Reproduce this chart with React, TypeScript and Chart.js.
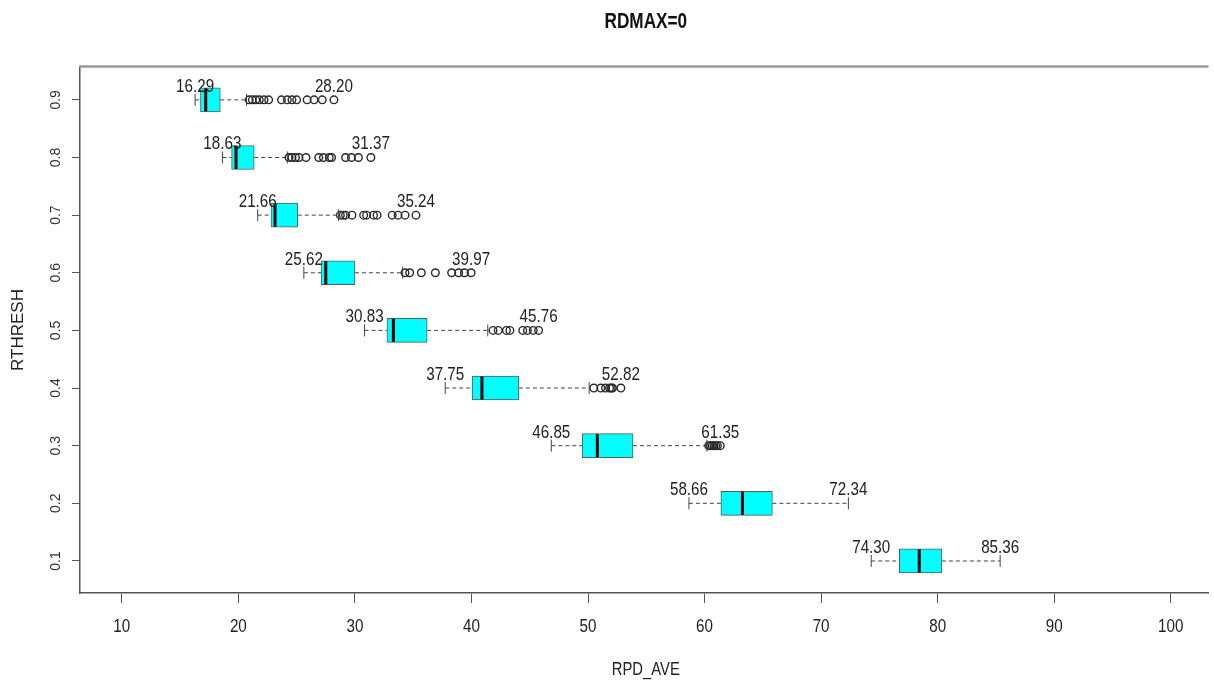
import React, { useEffect, useRef } from 'react';
import { Chart, registerables } from 'chart.js';

Chart.register(...registerables);

// ---- data (RTHRESH levels, RPD_AVE box statistics) ----
const rthresh = [0.1, 0.2, 0.3, 0.4, 0.5, 0.6, 0.7, 0.8, 0.9];
const whiskerLow = [74.3, 58.66, 46.85, 37.75, 30.83, 25.62, 21.66, 18.63, 16.29];
const q1 = [76.71, 61.4, 49.5, 40.06, 32.75, 27.1, 22.8, 19.42, 16.75];
const medianVals = [78.42, 63.25, 50.8, 40.9, 33.3, 27.5, 23.15, 19.8, 17.2];
const q3 = [80.36, 65.82, 53.86, 44.07, 36.2, 30.0, 25.1, 21.36, 18.45];
const whiskerHigh = [85.36, 72.34, 60.2, 50.1, 41.4, 34.1, 28.6, 24.2, 20.7];
const outliers: number[][] = [
  [],
  [],
  [60.35, 60.5, 60.65, 60.8, 60.95, 61.1, 61.35],
  [50.5, 51.1, 51.5, 51.85, 52.0, 52.1, 52.82],
  [41.85, 42.3, 43.0, 43.3, 44.4, 44.8, 45.3, 45.76],
  [34.3, 34.7, 35.7, 36.9, 38.3, 38.9, 39.4, 39.97],
  [28.75, 29.0, 29.2, 29.75, 30.75, 31.0, 31.6, 31.9, 33.2, 33.7, 34.3, 35.24],
  [24.35, 24.6, 24.9, 25.2, 25.8, 26.9, 27.3, 27.8, 28.0, 29.2, 29.7, 30.3, 31.37],
  [20.93, 21.2, 21.5, 21.8, 22.2, 22.6, 23.7, 24.2, 24.6, 25.0, 25.9, 26.5, 27.2, 28.2],
];
const xTicks = [10, 20, 30, 40, 50, 60, 70, 80, 90, 100];
const xTickLabels = ['10', '20', '30', '40', '50', '60', '70', '80', '90', '100'];
const yTicks = [0.1, 0.2, 0.3, 0.4, 0.5, 0.6, 0.7, 0.8, 0.9];
const yTickLabels = ['0.1', '0.2', '0.3', '0.4', '0.5', '0.6', '0.7', '0.8', '0.9'];
const titleText = 'RDMAX=0';
const xTitle = 'RPD_AVE';
const yTitle = 'RTHRESH';
const lowLabels = whiskerLow.map((v) => v.toFixed(2));
const highLabels = whiskerHigh.map((v, i) => Math.max(v, ...outliers[i]).toFixed(2));

const REGULAR = '"Liberation Sans", Arial, sans-serif';

function narrowText(
  ctx: CanvasRenderingContext2D,
  text: string,
  x: number,
  y: number,
  size: number,
  bold: boolean,
  baseline: CanvasTextBaseline,
  color: string
) {
  ctx.save();
  ctx.translate(x, y);
  ctx.scale(0.8, 1);
  ctx.font = `${bold ? 'bold ' : ''}${size}px ${REGULAR}`;
  ctx.fillStyle = color;
  ctx.textAlign = 'center';
  ctx.textBaseline = baseline;
  ctx.fillText(text, 0, 0);
  ctx.restore();
}

const boxPlugin = {
  id: 'boxExtras',
  beforeDatasetsDraw(chart: any) {
    const { ctx, scales } = chart;
    const x = scales.x;
    const y = scales.y;
    const meta = chart.getDatasetMeta(0);
    ctx.save();
    rthresh.forEach((r, i) => {
      const yc = y.getPixelForValue(r);
      const h = meta.data[i] ? meta.data[i].height : 24;
      const xl = x.getPixelForValue(whiskerLow[i]);
      const xa = x.getPixelForValue(q1[i]);
      const xb = x.getPixelForValue(q3[i]);
      const xh = x.getPixelForValue(whiskerHigh[i]);
      ctx.strokeStyle = '#444';
      ctx.lineWidth = 1;
      ctx.setLineDash([4, 3]);
      ctx.beginPath();
      ctx.moveTo(xl, yc);
      ctx.lineTo(xa, yc);
      ctx.moveTo(xb, yc);
      ctx.lineTo(xh, yc);
      ctx.stroke();
      ctx.setLineDash([]);
      ctx.beginPath();
      ctx.moveTo(xl, yc - h / 4);
      ctx.lineTo(xl, yc + h / 4);
      ctx.moveTo(xh, yc - h / 4);
      ctx.lineTo(xh, yc + h / 4);
      ctx.stroke();
    });
    ctx.restore();
  },
  afterDatasetsDraw(chart: any) {
    const { ctx, scales } = chart;
    const x = scales.x;
    const y = scales.y;
    const meta = chart.getDatasetMeta(0);
    ctx.save();
    rthresh.forEach((r, i) => {
      const yc = y.getPixelForValue(r);
      const h = meta.data[i] ? meta.data[i].height : 24;
      const xm = x.getPixelForValue(medianVals[i]);
      ctx.strokeStyle = '#000';
      ctx.lineWidth = 3;
      ctx.beginPath();
      ctx.moveTo(xm, yc - h / 2 + 0.5);
      ctx.lineTo(xm, yc + h / 2 - 0.5);
      ctx.stroke();
      const xl = x.getPixelForValue(whiskerLow[i]);
      const xmax = x.getPixelForValue(Math.max(whiskerHigh[i], ...outliers[i]));
      narrowText(ctx, lowLabels[i], xl, yc - 8, 19, false, 'alphabetic', '#222');
      narrowText(ctx, highLabels[i], xmax, yc - 8, 19, false, 'alphabetic', '#222');
    });
    ctx.restore();
  },
  afterDraw(chart: any) {
    const { ctx, chartArea, scales } = chart;
    const x = scales.x;
    ctx.save();
    // top frame line
    ctx.strokeStyle = '#9a9a9a';
    ctx.lineWidth = 2.5;
    ctx.beginPath();
    ctx.moveTo(chartArea.left - 1, chartArea.top - 0.5);
    ctx.lineTo(chartArea.right, chartArea.top - 0.5);
    ctx.stroke();
    ctx.restore();
    // x tick labels
    xTicks.forEach((v, i) => {
      narrowText(ctx, xTickLabels[i], x.getPixelForValue(v), chartArea.bottom + 34, 19, false, 'middle', '#222');
    });
    // x axis title
    narrowText(ctx, xTitle, (chartArea.left + chartArea.right + 3) / 2, chartArea.bottom + 77, 18.5, false, 'middle', '#222');
    // main title
    narrowText(ctx, titleText, (chartArea.left + chartArea.right + 3) / 2, 22, 21.5, true, 'middle', '#111');
  },
};

export default function App() {
  const ref = useRef<HTMLCanvasElement | null>(null);
  useEffect(() => {
    if (!ref.current) return;
    const boxData = rthresh.map((r, i) => ({ x: [q1[i], q3[i]], y: r }));
    const outData: { x: number; y: number }[] = [];
    outliers.forEach((arr, i) => arr.forEach((v) => outData.push({ x: v, y: rthresh[i] })));
    const chart = new Chart(ref.current, {
      type: 'bar',
      data: {
        datasets: [
          {
            type: 'bar',
            data: boxData as any,
            backgroundColor: '#00FFFF',
            borderColor: '#5a5a5a',
            borderWidth: 1,
            borderSkipped: false,
            barThickness: 24,
            order: 2,
          } as any,
          {
            type: 'scatter',
            data: outData,
            pointRadius: 3.8,
            pointBorderWidth: 1.4,
            pointBorderColor: '#2a2a2a',
            pointBackgroundColor: 'rgba(0,0,0,0)',
            showLine: false,
            order: 1,
          } as any,
        ],
      },
      options: {
        indexAxis: 'y',
        animation: false,
        responsive: false,
        layout: { padding: { top: 67, left: 0, right: 0, bottom: 0 } },
        plugins: { legend: { display: false }, tooltip: { enabled: false }, title: { display: false } },
        scales: {
          x: {
            type: 'linear',
            min: 6.414,
            max: 103.245,
            offset: false,
            afterBuildTicks: (s: any) => {
              s.ticks = xTicks.map((v) => ({ value: v }));
            },
            afterFit: (s: any) => {
              s.height = 89;
              s.paddingLeft = 0;
              s.paddingRight = 0;
            },
            grid: { display: true, drawOnChartArea: false, drawTicks: true, tickLength: 10, tickColor: '#555', offset: false },
            border: { display: true, color: '#555', width: 1.5 },
            ticks: { display: false, autoSkip: false },
            title: { display: false },
          },
          y: {
            type: 'linear',
            min: 0.0444,
            max: 0.957,
            offset: false,
            afterBuildTicks: (s: any) => {
              s.ticks = yTicks.map((v) => ({ value: v }));
            },
            afterFit: (s: any) => {
              s.width = 80;
              s.paddingTop = 0;
              s.paddingBottom = 0;
            },
            grid: { display: true, drawOnChartArea: false, drawTicks: true, tickLength: 8, tickColor: '#555', offset: false },
            border: { display: true, color: '#555', width: 1.5 },
            ticks: {
              autoSkip: false,
              minRotation: 90,
              maxRotation: 90,
              crossAlign: 'center',
              padding: 6,
              color: '#333',
              font: { family: REGULAR, size: 14 },
              callback: (v: any) => {
                const k = yTicks.findIndex((t) => Math.abs(t - Number(v)) < 1e-6);
                return k >= 0 ? yTickLabels[k] : '';
              },
            },
            title: {
              display: true,
              text: yTitle,
              color: '#222',
              font: { family: REGULAR, size: 17 },
              padding: { top: 8, bottom: 8 },
            },
          },
        },
      } as any,
      plugins: [boxPlugin],
    });
    return () => chart.destroy();
  }, []);
  return (
    <div style={{ position: 'fixed', left: 0, top: 0, width: 1214, height: 682, background: '#fff' }}>
      <canvas ref={ref} width={1214} height={682} style={{ display: 'block' }} />
    </div>
  );
}
